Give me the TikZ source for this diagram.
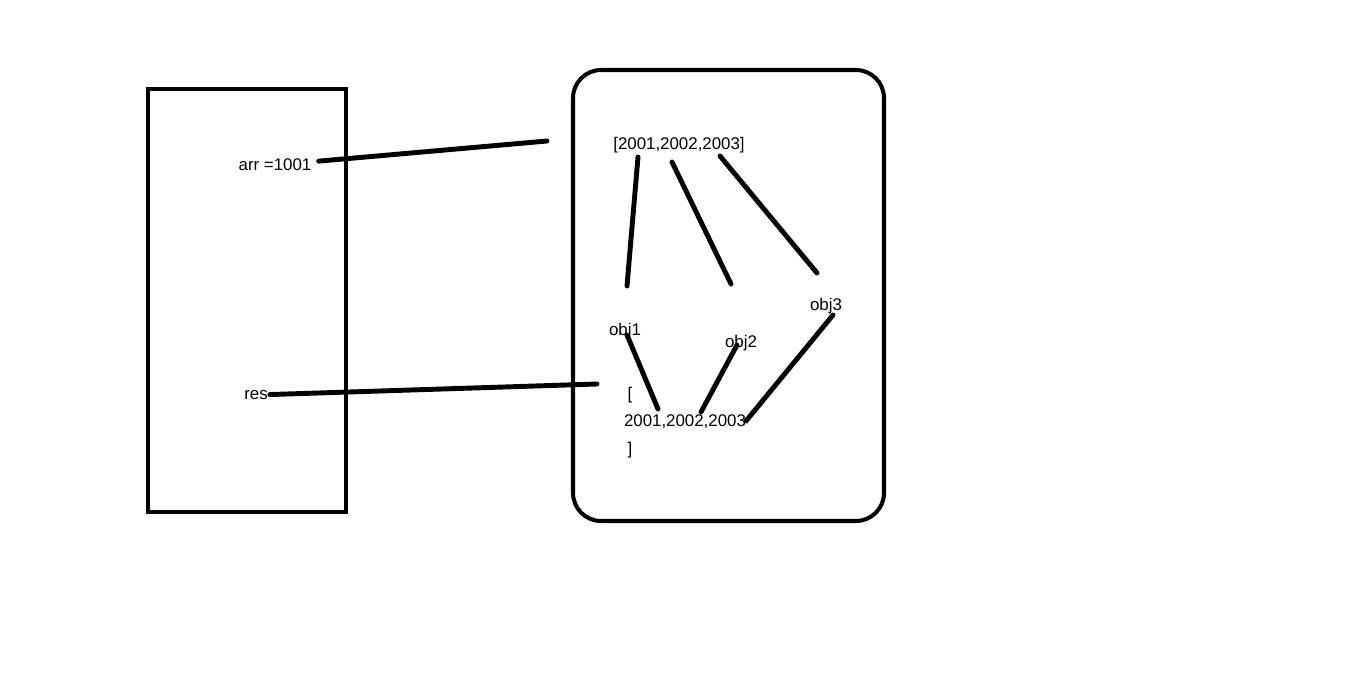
\documentclass[tikz,border=0pt]{standalone}
\usepackage{fontspec}
\setmainfont{Liberation Sans}
\usetikzlibrary{positioning}

\begin{document}
\begin{tikzpicture}[x=0.02cm, y=-0.02cm, font=\fontsize{9.6}{11}\selectfont,
    frame/.style={draw, line width=2.3pt},
    t/.style={inner sep=1pt},
    ln/.style={line width=2.8pt, line cap=round}]
    \useasboundingbox (0,0) rectangle (1366,676);
    % stack and heap
    \draw[frame] (148,89) rectangle (346,512);
    \draw[frame, rounded corners=16] (573,70) rectangle (884,521);
    % texts
    \node[t] (arr) at (275,165) {arr =1001};
    \node[t] (res) at (256,395) {res};
    \node[t] (outer) at (679,145) {[2001,2002,2003]};
    \node[t] (o1) at (625,331) {obj1};
    \node[t] (o2) at (741,343) {obj2};
    \node[t] (o3) at (826,306) {obj3};
    \node[t] (lb) at (630,395) {[};
    \node[t] (inner) at (685,422) {2001,2002,2003};
    \node[t] (rb) at (630,450) {]};
    % free ends
    \coordinate (p1) at (547,141);
    \coordinate (q1) at (597,384);
    \coordinate (a1) at (638,157); \coordinate (b1) at (627,286);
    \coordinate (a2) at (672,162); \coordinate (b2) at (731,284);
    \coordinate (a3) at (720,156); \coordinate (b3) at (817,273);
    \coordinate (c1) at (627,335); \coordinate (d1) at (658,409);
    \coordinate (c2) at (737,345); \coordinate (d2) at (701,412);
    \coordinate (c3) at (833,315); \coordinate (d3) at (746,421);
    % references
    \draw[ln, shorten <=3pt] (arr) -- (p1);
    \draw[ln] (res) -- (q1);
    \draw[ln] (a1) -- (b1);
    \draw[ln] (a2) -- (b2);
    \draw[ln] (a3) -- (b3);
    \draw[ln] (c1) -- (d1);
    \draw[ln] (c2) -- (d2);
    \draw[ln] (c3) -- (d3);
\end{tikzpicture}
\end{document}
